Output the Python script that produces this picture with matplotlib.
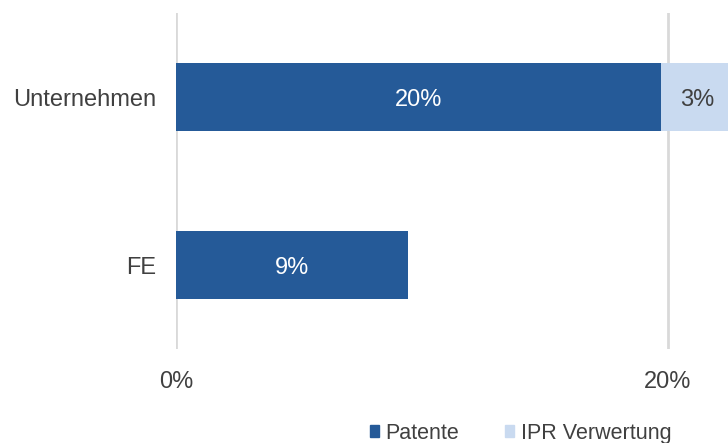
import numpy as np
import matplotlib.pyplot as plt
from matplotlib.patches import Patch

plt.rcParams['font.family'] = ['Liberation Sans', 'DejaVu Sans']

categories = ['Unternehmen', 'FE']
patente = [19.7, 9.45]
ipr = [3.0, 0.0]
patente_labels = ['20%', '9%']
ipr_labels = ['3%', '']
xticks = [0, 20]
xticklabels = ['0%', '20%']

dark = '#255A98'
light = '#C9DAF0'
grey = '#404040'

fig = plt.figure(figsize=(7.28, 4.43), dpi=100)
ax = fig.add_axes([176/728, 1 - 349/443, 1 - 176/728, 336/443])

y = np.arange(len(categories))
ax.barh(y, patente, height=0.4, color=dark, zorder=2)
ax.barh(y, ipr, left=patente, height=0.4, color=light, zorder=2, clip_on=True)

for i in range(len(categories)):
    ax.text(patente[i] / 2, y[i], patente_labels[i], color='white',
            ha='center', va='center_baseline', fontsize=17)
    if ipr[i] > 0:
        ax.text(patente[i] + ipr[i] / 2, y[i], ipr_labels[i], color=grey,
                ha='center', va='center_baseline', fontsize=17)

ax.set_xlim(0, 22.44)
ax.set_ylim(1.5, -0.5)
ax.set_yticks(y)
ax.set_yticklabels(categories, fontsize=17, color=grey)
ax.set_xticks(xticks)
ax.set_xticklabels(xticklabels, fontsize=17, color=grey)
ax.tick_params(length=0)
ax.tick_params(axis='x', pad=16)
ax.tick_params(axis='y', pad=14)
ax.grid(axis='x', color='#D9D9D9', linewidth=2, zorder=0)
for s in ax.spines.values():
    s.set_visible(False)

handles = [Patch(color=dark, label='Patente'), Patch(color=light, label='IPR Verwertung')]
fig.legend(handles=handles, loc='lower center', bbox_to_anchor=(0.715, -0.045),
           ncol=2, frameon=False, fontsize=15.5, handlelength=0.45, handleheight=0.45,
           handletextpad=0.3, columnspacing=2.1, labelcolor=grey)

fig.savefig('out.png', dpi=100)
